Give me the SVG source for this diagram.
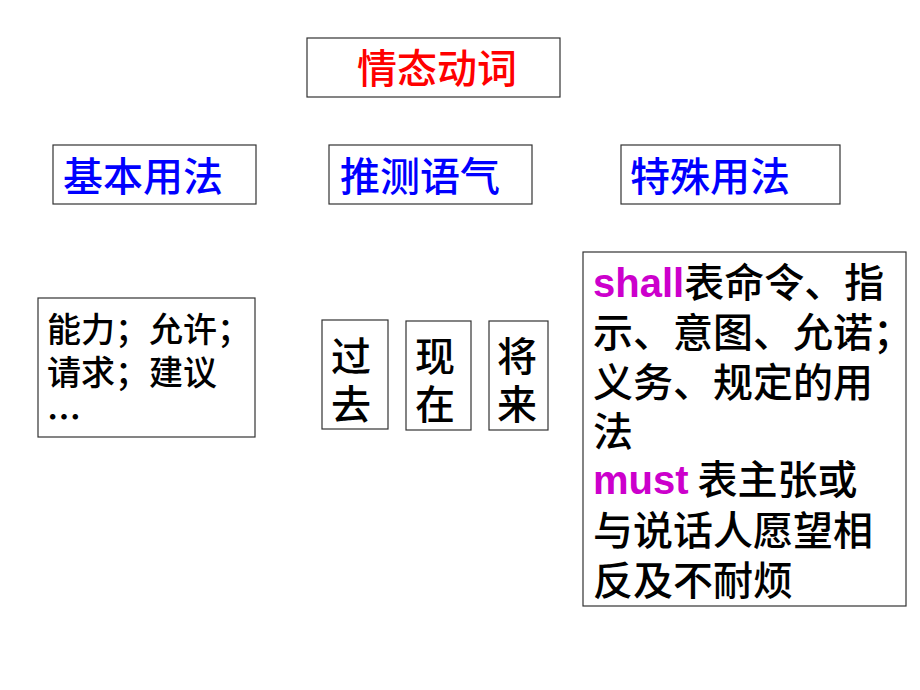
<svg xmlns="http://www.w3.org/2000/svg" width="920" height="690" viewBox="0 0 920 690">
<style>
.box{fill:#fff;stroke:#333;stroke-width:1.2}
.t{font-family:"Noto Sans CJK SC","Liberation Sans",sans-serif;font-weight:500}
.red{fill:#ff0000;font-size:40px}
.blue{fill:#0000ff;font-size:40px}
.blk{fill:#000;font-size:34px}
.big{fill:#000;font-size:40px}
.mag{fill:#cc00cc;font-family:"Liberation Sans",Arial,sans-serif;font-weight:bold}
</style>
<rect width="920" height="690" fill="#fff"/>
<g id="title">
<rect class="box" x="307" y="38" width="253" height="59"/>
<text class="t red" x="357" y="83">情态动词</text>
</g>
<g id="basic">
<rect class="box" x="53" y="145" width="203" height="59"/>
<text class="t blue" x="63" y="191">基本用法</text>
</g>
<g id="guess">
<rect class="box" x="329" y="145" width="203" height="59"/>
<text class="t blue" x="340" y="191">推测语气</text>
</g>
<g id="special">
<rect class="box" x="621" y="145" width="219" height="59"/>
<text class="t blue" x="630" y="191">特殊用法</text>
</g>
<g id="ability">
<rect class="box" x="38" y="298" width="217" height="139"/>
<text class="t blk" x="47" y="342">能力；允许；</text>
<text class="t blk" x="47" y="385">请求；建议</text>
<text class="t blk" x="47" y="430" style="font-weight:bold">…</text>
</g>
<g id="past">
<rect class="box" x="322" y="320" width="66" height="109"/>
<text class="t big" x="331" y="371">过</text>
<text class="t big" x="331" y="419">去</text>
</g>
<g id="present">
<rect class="box" x="406" y="321" width="65" height="109"/>
<text class="t big" x="415" y="371">现</text>
<text class="t big" x="415" y="419">在</text>
</g>
<g id="future">
<rect class="box" x="489" y="321" width="59" height="109"/>
<text class="t big" x="497" y="371">将</text>
<text class="t big" x="497" y="419">来</text>
</g>
<g id="usage">
<rect class="box" x="583" y="252" width="323" height="354"/>
<text class="t big" x="593" y="297"><tspan class="mag">shall</tspan>表命令、指</text>
<text class="t big" x="593" y="347">示、意图、允诺；</text>
<text class="t big" x="593" y="397">义务、规定的用</text>
<text class="t big" x="593" y="446">法</text>
<text class="t big" x="593" y="494"><tspan class="mag">must</tspan> 表主张或</text>
<text class="t big" x="593" y="545">与说话人愿望相</text>
<text class="t big" x="593" y="595">反及不耐烦</text>
</g>
<g id="connectors"></g>
</svg>
